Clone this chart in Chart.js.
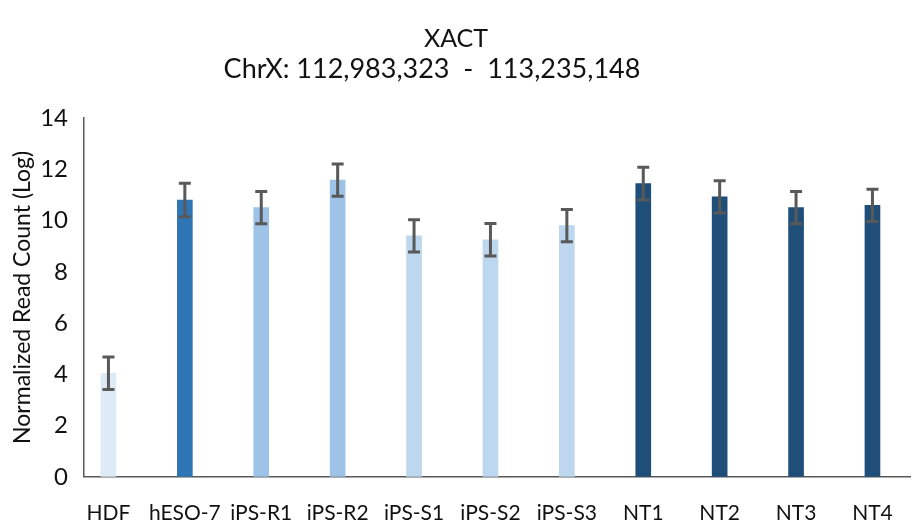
<!DOCTYPE html>
<html lang="en">

<head>
    <meta charset="UTF-8">
    <title>XACT</title>
    <script src="https://cdn.jsdelivr.net/npm/chart.js"></script>
    <style>
        html, body {
            margin: 0;
            padding: 0;
            background: #ffffff;
        }

        #wrap {
            width: 917px;
            height: 526px;
        }
    </style>
</head>

<body>
    <div id="wrap"><canvas id="xactChart"></canvas></div>

    <script>
        const categories = ['HDF', 'hESO-7', 'iPS-R1', 'iPS-R2', 'iPS-S1', 'iPS-S2', 'iPS-S3', 'NT1', 'NT2', 'NT3', 'NT4'];
        const readCounts = [4.04, 10.8, 10.5, 11.58, 9.4, 9.25, 9.8, 11.44, 10.92, 10.5, 10.59];
        const errors = [0.63, 0.65, 0.63, 0.63, 0.63, 0.63, 0.63, 0.64, 0.63, 0.63, 0.63];
        const barColors = ['#deebf7', '#2e75b6', '#9dc3e6', '#9dc3e6', '#bdd7ee', '#bdd7ee', '#bdd7ee',
            '#1f4e79', '#1f4e79', '#1f4e79', '#1f4e79'];
        const yTicks = [0, 2, 4, 6, 8, 10, 12, 14];
        const subtitleText = 'ChrX: 112,983,323  -  113,235,148';

        // error bars drawn on top of the bars
        const errorBars = {
            id: 'errorBars',
            afterDatasetsDraw(chart) {
                const ctx = chart.ctx;
                const xs = chart.scales.x;
                const ys = chart.scales.y;
                ctx.save();
                ctx.strokeStyle = '#595959';
                ctx.lineWidth = 3;
                readCounts.forEach((v, i) => {
                    const x = xs.getPixelForValue(i);
                    const top = ys.getPixelForValue(v + errors[i]);
                    const bot = ys.getPixelForValue(v - errors[i]);
                    ctx.beginPath();
                    ctx.moveTo(x, top);
                    ctx.lineTo(x, bot);
                    ctx.moveTo(x - 6, top);
                    ctx.lineTo(x + 6, top);
                    ctx.moveTo(x - 6, bot);
                    ctx.lineTo(x + 6, bot);
                    ctx.stroke();
                });
                ctx.restore();
            }
        };

        // second title line, sits a bit left of centre in the original
        const chrLine = {
            id: 'chrLine',
            afterDraw(chart) {
                const ctx = chart.ctx;
                ctx.save();
                ctx.font = '27px Lato';
                ctx.fillStyle = '#111';
                ctx.textAlign = 'center';
                ctx.textBaseline = 'middle';
                ctx.fillText(subtitleText, 432, 69);
                ctx.restore();
            }
        };

        const ctx = document.getElementById('xactChart').getContext('2d');
        const xactChart = new Chart(ctx, {
            type: 'bar',
            data: {
                datasets: [{
                    label: 'XACT',
                    data: readCounts.map((v, i) => ({ x: i, y: v })),
                    backgroundColor: barColors,
                    barThickness: 15,
                }]
            },
            options: {
                responsive: true,
                maintainAspectRatio: false,
                animation: false,
                layout: {
                    padding: { left: 0, right: 5, top: 24, bottom: -24 }
                },
                plugins: {
                    legend: { display: false },
                    tooltip: { enabled: false },
                    title: {
                        display: true,
                        text: 'XACT',
                        color: '#111',
                        font: { family: 'Lato', size: 25, weight: 'normal' },
                        padding: { top: 0, bottom: 64 }
                    }
                },
                scales: {
                    x: {
                        type: 'linear',
                        offset: false,
                        min: -0.32,
                        max: 10.5,
                        afterBuildTicks: axis => {
                            axis.ticks = categories.map((c, i) => ({ value: i }));
                        },
                        grid: { display: false, drawTicks: false },
                        border: { color: '#595959', width: 1.5 },
                        ticks: {
                            autoSkip: false,
                            maxRotation: 0,
                            padding: 24,
                            color: '#111',
                            font: { family: 'Lato', size: 21 },
                            callback: v => categories[v]
                        }
                    },
                    y: {
                        min: 0,
                        max: 14,
                        afterBuildTicks: axis => {
                            axis.ticks = yTicks.map(v => ({ value: v }));
                        },
                        afterFit: scale => {
                            scale.width = 84;
                        },
                        grid: { display: false, drawTicks: false },
                        border: { color: '#595959', width: 1.5 },
                        ticks: {
                            padding: 16,
                            color: '#111',
                            font: { family: 'Lato', size: 24 }
                        },
                        title: {
                            display: true,
                            text: 'Normalized Read Count (Log)',
                            color: '#111',
                            font: { family: 'Lato', size: 23 },
                            padding: { top: 9, bottom: 0 }
                        }
                    }
                }
            },
            plugins: [errorBars, chrLine]
        });
    </script>

</body>

</html>
